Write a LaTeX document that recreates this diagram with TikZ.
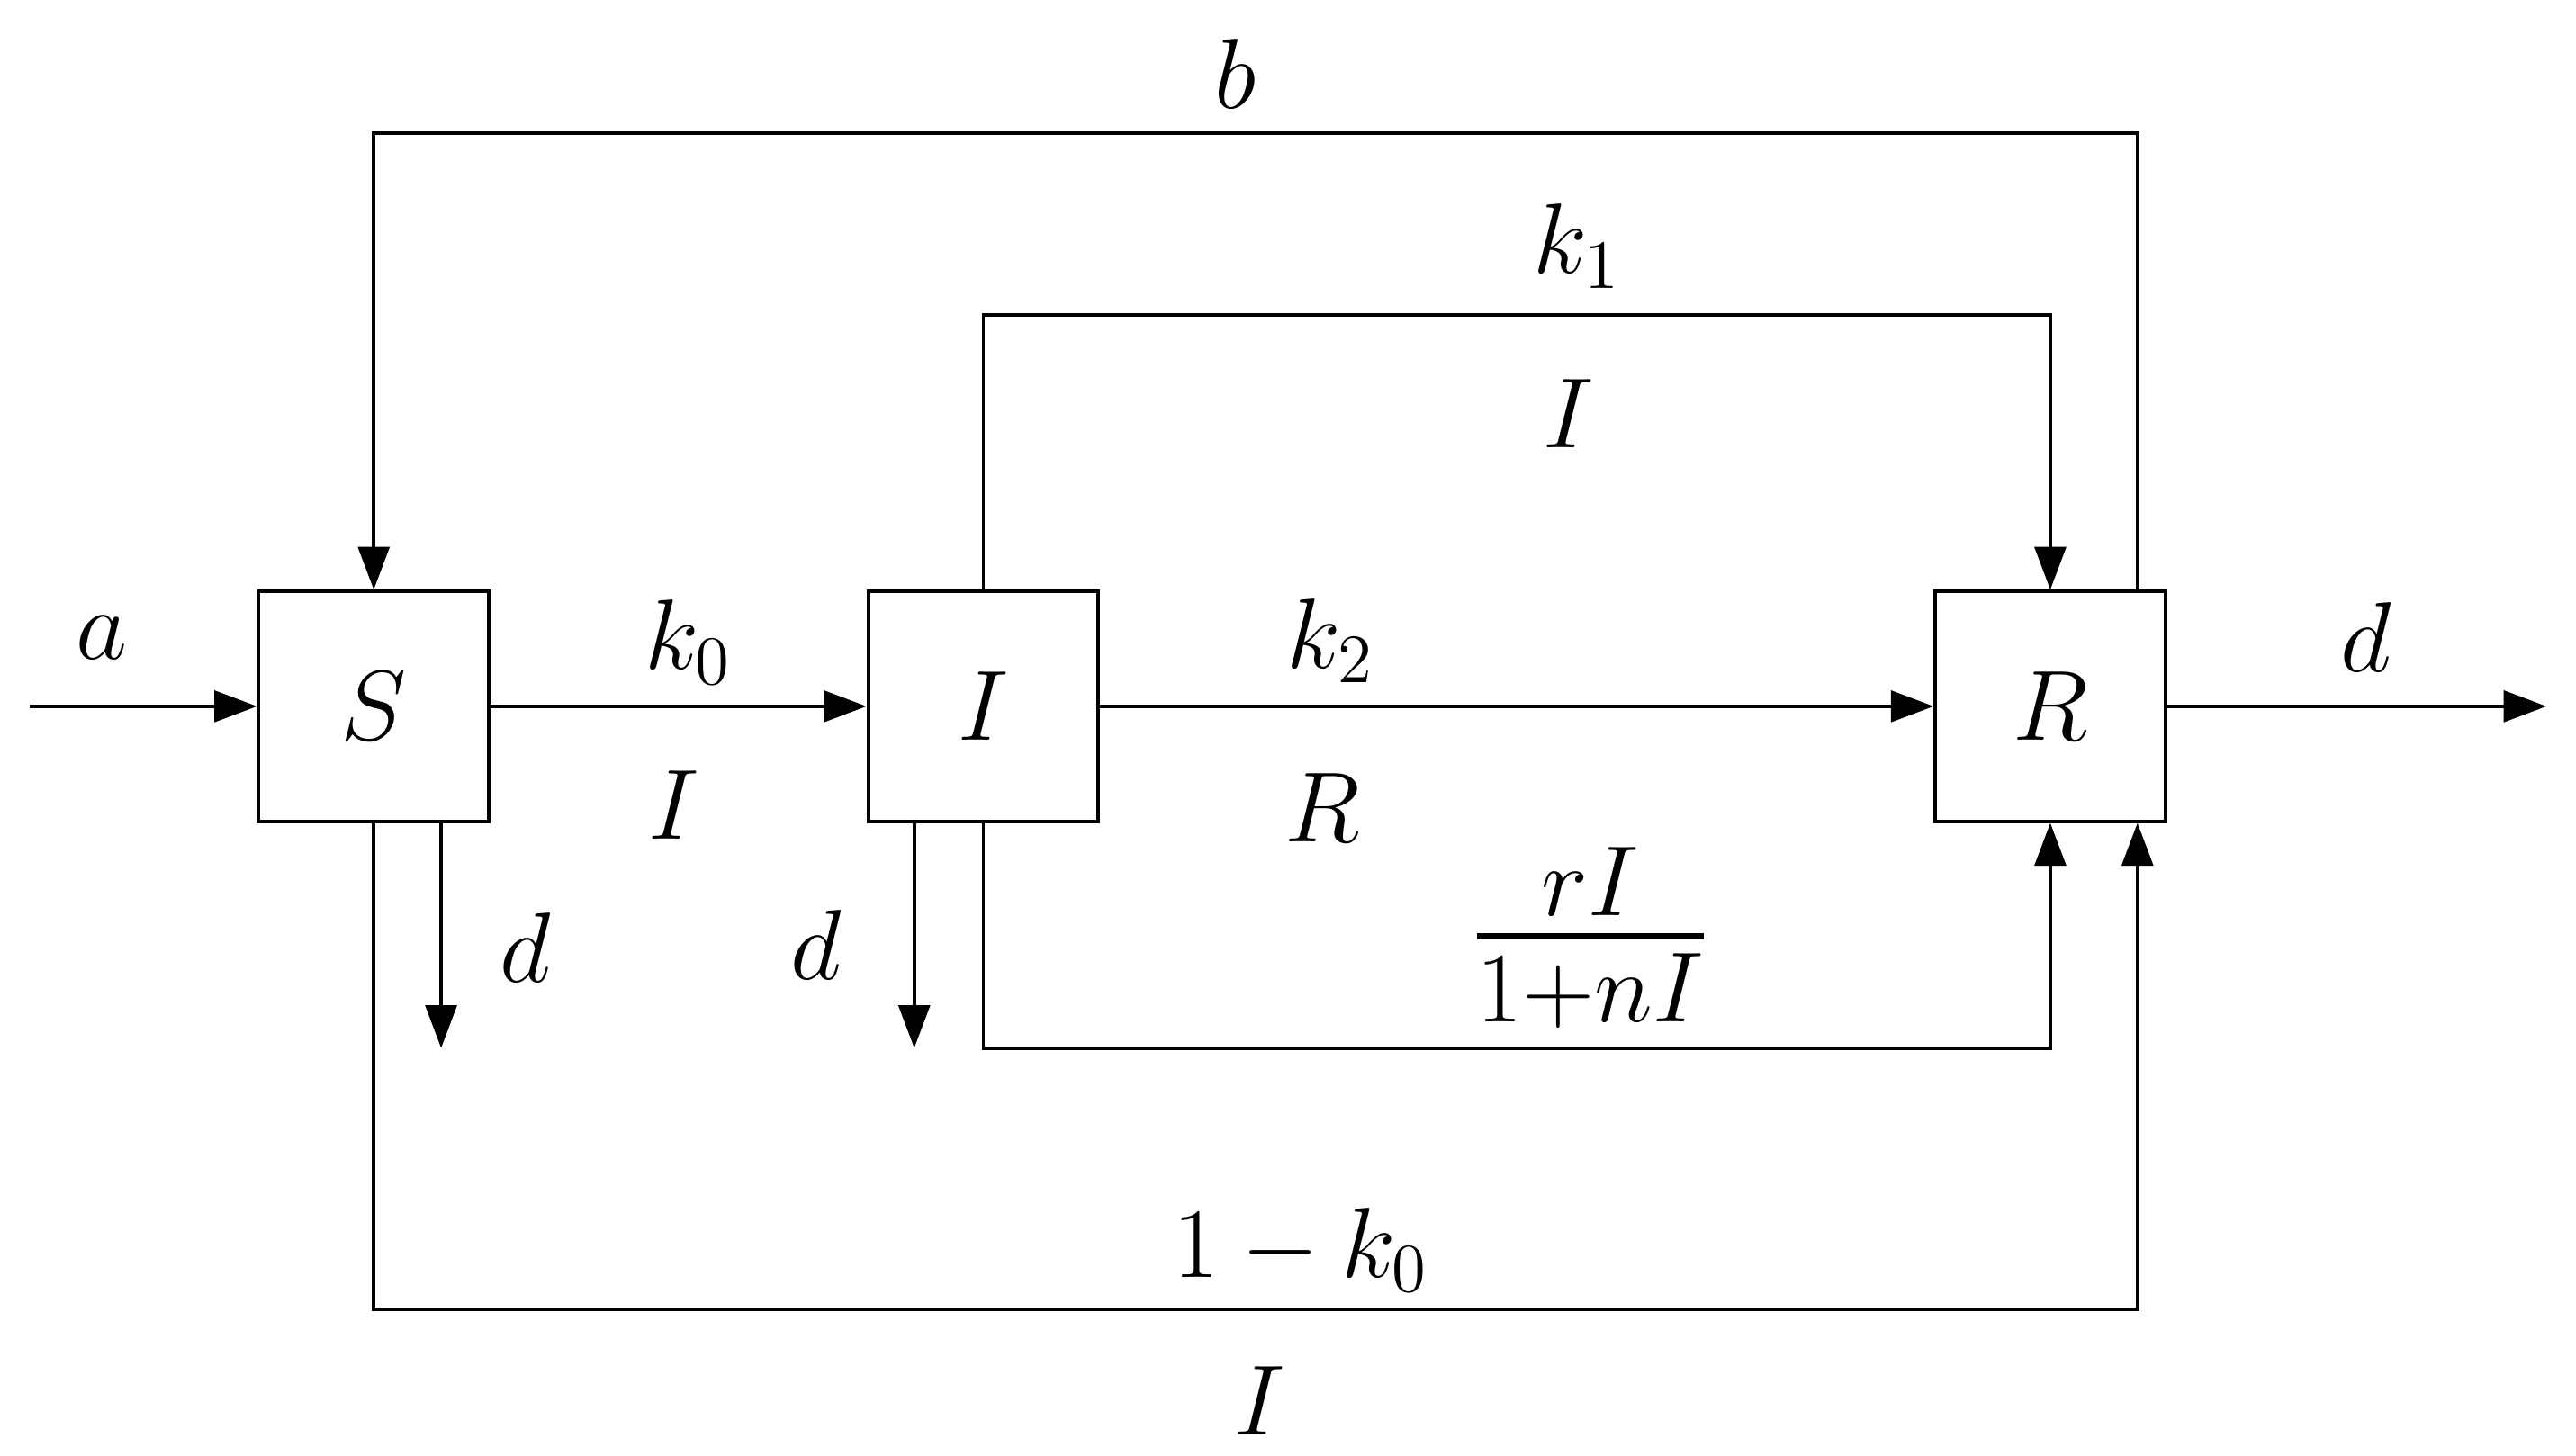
\documentclass[tikz,border=0pt]{standalone}
\usepackage{amsmath}
\usetikzlibrary{arrows.meta,calc}

\tikzset{block/.style={draw, minimum width=1.4cm, minimum height=1.4cm, inner sep=0pt},
	lbl/.style={inner sep=1pt}}

\begin{document}
\begin{tikzpicture}[line width=0.6pt, >={Triangle[length=2.6mm,width=1.9mm]}, font=\fontsize{17}{20}\selectfont]
\useasboundingbox (0,0) rectangle (15.68,-8.86);
% compartments
\node[block](S) at (2.275,-4.30){$S$};
\node[block](I) at (5.985,-4.30){$I$};
\node[block](R) at (12.48,-4.30){$R$};
\coordinate(in) at (0.18,-4.30);
\coordinate(out) at (15.50,-4.30);
% main chain
\draw[->](in)--(S.west);
\draw[->](S.east)--(I.west);
\draw[->](I.east)--(R.west);
\draw[->](R.east)--(out);
% loops above
\draw[->]([xshift=-1.8mm]R.north east)--++(0,2.78)-|(S.north);
\draw[->](I.north)--++(0,1.67)-|(R.north);
% losses
\draw[->]([xshift=4.1mm]S.south)--++(0,-1.37);
\draw[->]([xshift=-4.2mm]I.south)--++(0,-1.37);
% loops below
\draw[->](I.south)--++(0,-1.37)-|(R.south);
\draw[->](S.south)--++(0,-2.96)-|([xshift=-1.8mm]R.south east);
% labels
\node[lbl](la) at (0.62,-3.88){$a$};
\node[lbl](lk0) at (4.19,-3.91){$k_0$};
\node[lbl](lI0) at (4.10,-4.90){$I$};
\node[lbl](lk2) at (8.10,-3.90){$k_2$};
\node[lbl](lR) at (8.05,-4.92){$R$};
\node[lbl](ldo) at (14.40,-3.88){$d$};
\node[lbl](lb) at (7.52,-0.45){$b$};
\node[lbl](lk1) at (9.60,-1.50){$k_1$};
\node[lbl](lI1) at (9.55,-2.52){$I$};
\node[lbl](ldS) at (3.20,-5.77){$d$};
\node[lbl](ldI) at (4.97,-5.75){$d$};
\node[lbl,font=\fontsize{23.5}{28}\selectfont](lsat) at (9.68,-5.71){$\frac{rI}{1+nI}$};
\node[lbl](lk0b) at (7.92,-7.61){$1-k_0$};
\node[lbl](lI2) at (7.67,-8.53){$I$};
\end{tikzpicture}
\end{document}
